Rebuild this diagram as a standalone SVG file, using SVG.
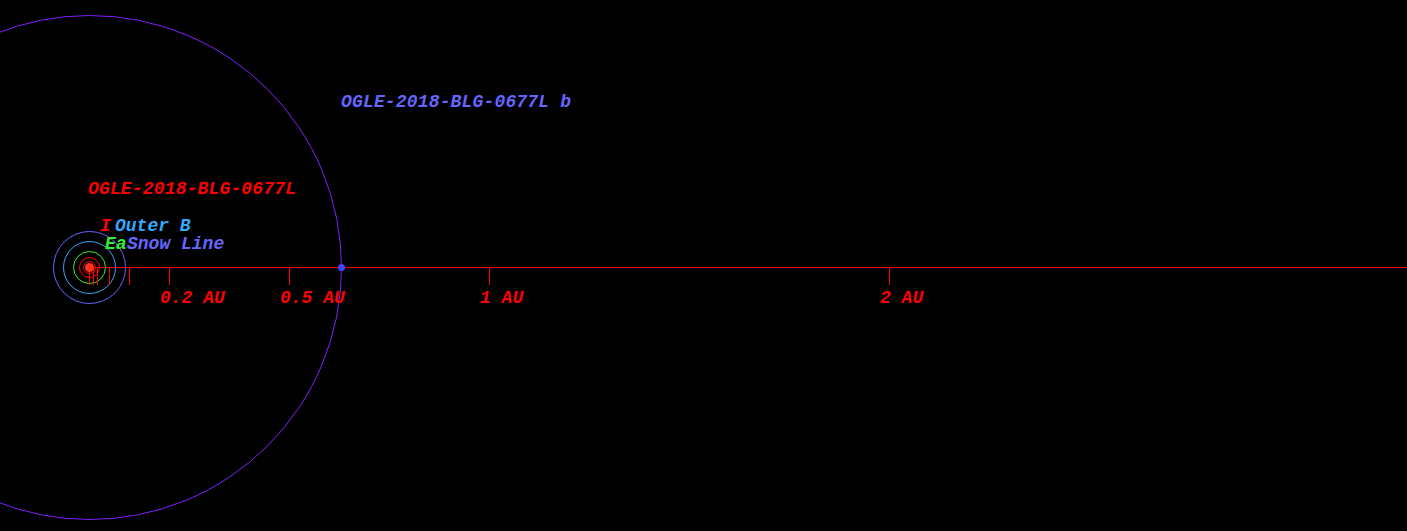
<svg xmlns="http://www.w3.org/2000/svg" width="1407" height="531" viewBox="0 0 1407 531">
<style>
text{font-family:"Liberation Mono","Courier New",monospace;font-size:18px;font-weight:bold;font-style:italic}
.red{fill:#ff0000}
.tick{stroke:#ff0000;stroke-width:1}
.orb{fill:none;stroke-width:1}
</style>
<rect x="0" y="0" width="1407" height="531" fill="#000"/>
<g id="orbits">
<circle class="orb" cx="89.5" cy="267.5" r="6" stroke="#ff0000"/>
<circle class="orb" cx="89.5" cy="267.5" r="10" stroke="#ff0000"/>
<circle class="orb" cx="89.5" cy="267.5" r="16" stroke="#33ee33"/>
<circle class="orb" cx="89.5" cy="267.5" r="26" stroke="#33aaff"/>
<circle class="orb" cx="89.5" cy="267.5" r="36" stroke="#6666ff"/>
<circle class="orb" cx="89.5" cy="267.5" r="252" stroke="#8020ff"/>
</g>
<g id="axis">
<line x1="89" y1="267.5" x2="1407" y2="267.5" stroke="#ff0000"/>
<line class="tick" x1="89.5" y1="267.5" x2="89.5" y2="285"/>
<line class="tick" x1="93.5" y1="267.5" x2="93.5" y2="285"/>
<line class="tick" x1="97.5" y1="267.5" x2="97.5" y2="285"/>
<line class="tick" x1="109.5" y1="267.5" x2="109.5" y2="285"/>
<line class="tick" x1="129.5" y1="267.5" x2="129.5" y2="285"/>
<line class="tick" x1="169.5" y1="267.5" x2="169.5" y2="285"/>
<line class="tick" x1="289.5" y1="267.5" x2="289.5" y2="285"/>
<line class="tick" x1="489.5" y1="267.5" x2="489.5" y2="285"/>
<line class="tick" x1="889.5" y1="267.5" x2="889.5" y2="285"/>
<text class="red" x="160" y="303">0.2 AU</text>
<text class="red" x="280" y="303">0.5 AU</text>
<text class="red" x="480" y="303">1 AU</text>
<text class="red" x="880" y="303">2 AU</text>
</g>
<g id="star">
<circle cx="89.5" cy="267.5" r="4.5" fill="#ff3322"/>
<text class="red" x="88" y="194" textLength="208">OGLE-2018-BLG-0677L</text>
</g>
<g id="planet">
<circle cx="341.5" cy="267.5" r="3.5" fill="#4444ff"/>
<text x="341" y="107" fill="#6666ff" textLength="230">OGLE-2018-BLG-0677L b</text>
</g>
<g id="zone-labels">
<text class="red" x="100" y="231">I</text>
<text x="115" y="231" fill="#33aaff">Outer B</text>
<text x="105" y="249" fill="#33ee33">Ea</text>
<text x="127" y="249" fill="#6666ff">Snow Line</text>
</g>
</svg>
